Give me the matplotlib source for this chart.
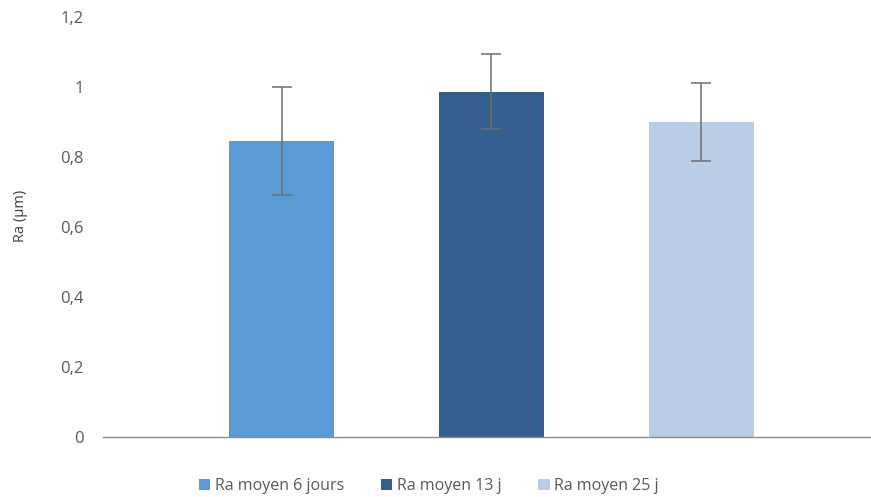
import matplotlib
matplotlib.use("Agg")
import matplotlib.pyplot as plt
from matplotlib.patches import Patch
from matplotlib.ticker import FuncFormatter

plt.rcParams['font.family'] = ['Open Sans', 'DejaVu Sans']

series = ["Ra moyen 6 jours", "Ra moyen 13 j", "Ra moyen 25 j"]
values = [0.845, 0.987, 0.900]
errors = [0.154, 0.108, 0.112]
colors = ["#5B9BD5", "#355F8F", "#B9CDE5"]
yticks = [0, 0.2, 0.4, 0.6, 0.8, 1.0, 1.2]

W, H = 871, 497
fig = plt.figure(figsize=(W / 100, H / 100), dpi=100)
left, right, top, bottom = 103, 871, 17, 437
ax = fig.add_axes([left / W, 1 - bottom / H, (right - left) / W, (bottom - top) / H])

x = list(range(len(series)))
ax.bar(x, values, width=0.5, color=colors, zorder=2)
ax.errorbar(x, values, yerr=errors, fmt='none', ecolor='#6e6e6e', elinewidth=1.1,
            capsize=7, capthick=1.1, zorder=3)

ax.set_xlim(-0.852, 2.81)
ax.set_ylim(0, 1.2)
ax.set_yticks(yticks)
ax.yaxis.set_major_formatter(FuncFormatter(lambda v, p: f"{v:g}".replace('.', ',')))
ax.tick_params(axis='y', length=0, pad=14, labelsize=12, labelcolor='#595959')
ax.set_xticks([])
for s in ['top', 'right', 'left']:
    ax.spines[s].set_visible(False)
ax.spines['bottom'].set_color('#8c8c8c')
ax.spines['bottom'].set_linewidth(1.0)

fig.text(21 / W, 1 - 216 / H, "Ra (µm)", rotation=90, ha='center', va='center',
         fontsize=10.5, color='#404040')

handles = [Patch(facecolor=c, edgecolor='none') for c in colors]
fig.legend(handles, series, loc='center', bbox_to_anchor=(429 / W, 1 - 486 / H), ncol=3,
           frameon=False, fontsize=11.5, labelcolor='#595959', handlelength=0.7,
           handleheight=0.7, handletextpad=0.3, columnspacing=2.3, borderpad=0)

fig.savefig("out.png", dpi=100)
